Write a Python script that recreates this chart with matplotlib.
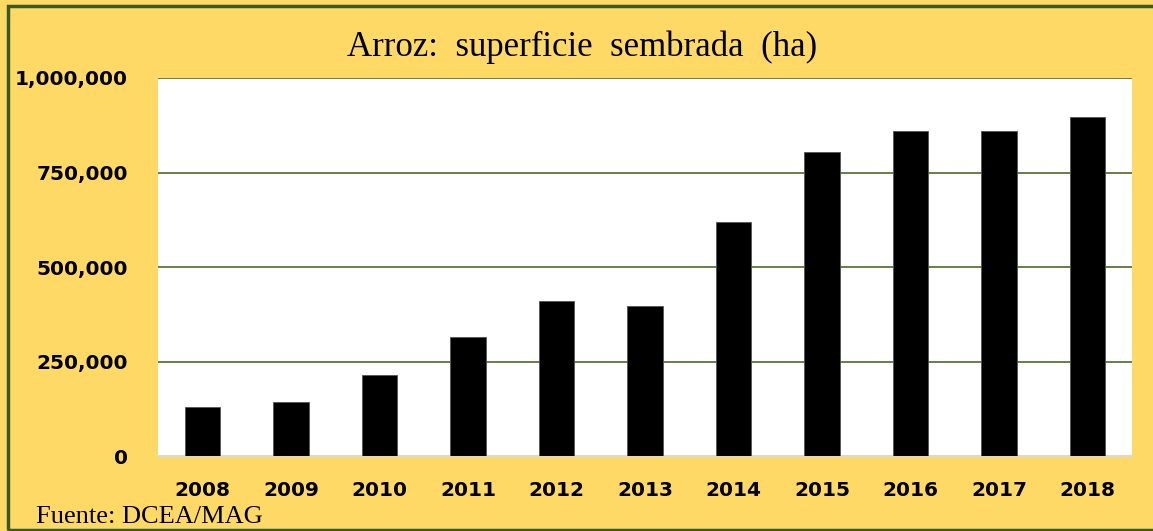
import matplotlib.pyplot as plt
from matplotlib.patches import Rectangle

# data
years = ["2008", "2009", "2010", "2011", "2012", "2013", "2014", "2015", "2016", "2017", "2018"]
hectares = [130000, 143000, 214000, 315000, 410000, 397000, 619000, 804000, 860000, 860000, 896000]
yticks = [0, 250000, 500000, 750000, 1000000]

W, H = 1153, 531
fig = plt.figure(figsize=(W / 100, H / 100), dpi=100)
fig.patch.set_facecolor("#FFD966")

# plot area in pixel coords: x 158..1132, y 78..456
ax = fig.add_axes([158 / W, 1 - 456 / H, (1132 - 158) / W, (456 - 78) / H])
ax.set_facecolor("white")

x = range(len(years))
ax.bar(x, hectares, width=0.4, color="black", edgecolor="#555555", linewidth=0.6, zorder=3)

ax.set_xlim(-0.5, len(years) - 0.5)
ax.set_ylim(0, 1000000)
ax.set_yticks(yticks)
ax.set_yticklabels([f"{v:,}" for v in yticks])
ax.set_xticks(list(x))
ax.set_xticklabels(years)
ax.yaxis.grid(True, color="#4A6A26", linewidth=1.2, zorder=0)
ax.tick_params(length=0, labelsize=14.5)
ax.tick_params(axis="y", pad=21.5)
ax.tick_params(axis="x", pad=18)
for lab in ax.get_xticklabels() + ax.get_yticklabels():
    lab.set_fontweight("bold")

for side in ["left", "right", "top"]:
    ax.spines[side].set_visible(False)
ax.spines["bottom"].set_color("#D9D9D9")
ax.spines["bottom"].set_linewidth(1.5)

fig.text(582 / W, 1 - 47 / H, "Arroz:  superficie  sembrada  (ha)",
         family="Liberation Serif", fontsize=25, ha="center", va="center")
fig.text(36 / W, 1 - 517 / H, "Fuente: DCEA/MAG",
         family="Liberation Serif", fontsize=19, ha="left", va="center")

# dark outline of the chart box
fig.patches.append(Rectangle((8 / W, 1 - 530 / H), 1.2, (530 - 6) / H,
                             transform=fig.transFigure, fill=False,
                             edgecolor="#3A5A22", linewidth=2.5))

fig.savefig("out.png", dpi=100, facecolor=fig.get_facecolor())
